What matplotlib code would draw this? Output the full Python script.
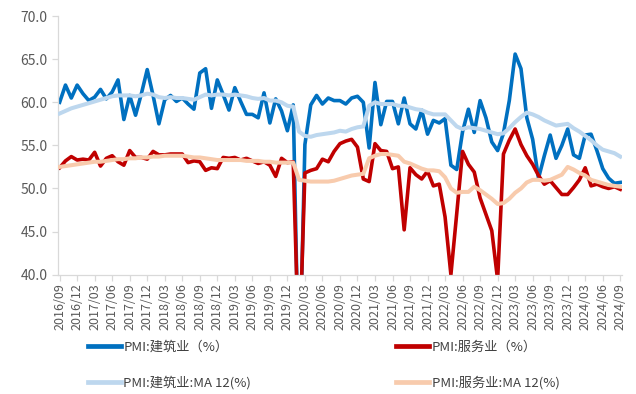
import matplotlib
matplotlib.use("Agg")
import matplotlib.pyplot as plt
import numpy as np
import pandas as pd

plt.rcParams['font.family'] = ['Noto Sans CJK SC', 'DejaVu Sans']

# monthly PMI, 2016/09 - 2024/09
months = pd.period_range('2016-09', '2024-09', freq='M').strftime('%Y/%m').tolist()

construction = [
    60.0, 62.0, 60.5, 62.0, 61.0, 60.2, 60.6, 61.5, 60.4, 61.2, 62.6, 58.0,
    60.8, 58.5, 61.0, 63.8, 60.8, 57.5, 60.3, 60.8, 60.1, 60.5, 59.8, 59.2,
    63.4, 63.9, 59.3, 62.6, 60.9, 59.1, 61.7, 60.1, 58.6, 58.6, 58.2, 61.1,
    57.6, 60.4, 59.0, 56.7, 59.7, 26.6, 55.1, 59.7, 60.8, 59.8, 60.5, 60.2,
    60.2, 59.8, 60.5, 60.7, 60.0, 54.7, 62.3, 57.4, 60.1, 60.1, 57.5, 60.5,
    57.5, 56.9, 59.1, 56.3, 57.9, 57.6, 58.1, 52.7, 52.2, 56.6, 59.2, 56.5,
    60.2, 58.2, 55.4, 54.4, 56.4, 60.2, 65.6, 63.9, 58.2, 55.7, 51.2, 53.8,
    56.2, 53.5, 55.0, 56.9, 53.9, 53.5, 56.2, 56.3, 54.4, 52.3, 51.2, 50.6,
    50.7,
]

services = [
    52.4, 53.2, 53.7, 53.3, 53.4, 53.3, 54.2, 52.6, 53.5, 53.8, 53.1, 52.7,
    54.4, 53.6, 53.6, 53.4, 54.3, 53.9, 53.9, 54.0, 54.0, 54.0, 53.0, 53.2,
    53.1, 52.1, 52.4, 52.3, 53.6, 53.5, 53.6, 53.3, 53.5, 53.2, 52.9, 53.1,
    52.7, 51.4, 53.5, 53.0, 53.1, 30.1, 51.8, 52.1, 52.3, 53.4, 53.1, 54.3,
    55.2, 55.5, 55.7, 54.8, 51.1, 50.8, 55.2, 54.4, 54.3, 52.3, 52.5, 45.2,
    52.4, 51.6, 51.1, 52.0, 50.3, 50.5, 46.7, 40.0, 47.1, 54.3, 52.8, 51.9,
    48.9, 47.0, 45.1, 39.4, 54.0, 55.6, 56.9, 55.1, 53.8, 52.8, 51.5, 50.5,
    50.9, 50.1, 49.3, 49.3, 50.1, 51.0, 52.4, 50.3, 50.5, 50.2, 50.0, 50.2,
    49.9,
]

construction_ma12 = [
    58.7, 59.0, 59.3, 59.5, 59.7, 59.9, 60.1, 60.3, 60.5, 60.7, 60.8, 60.8,
    60.8, 60.7, 60.8, 61.0, 60.9, 60.6, 60.5, 60.6, 60.5, 60.5, 60.4, 60.3,
    60.6, 60.9, 60.8, 60.9, 60.9, 60.8, 60.9, 60.8, 60.7, 60.5, 60.4, 60.5,
    60.2, 60.2, 60.0, 59.6, 59.5, 56.6, 56.1, 56.0, 56.2, 56.3, 56.4, 56.5,
    56.7, 56.6, 56.9, 57.1, 57.2, 59.6, 60.0, 59.8, 59.8, 59.8, 59.6, 59.6,
    59.4, 59.2, 59.1, 58.8, 58.6, 58.6, 58.6, 57.9, 57.2, 56.9, 57.1, 57.0,
    56.9, 56.7, 56.5, 56.3, 56.4, 57.0, 57.7, 58.3, 58.8, 58.6, 58.3, 57.9,
    57.6, 57.3, 57.4, 57.5, 57.0, 56.6, 56.1, 55.6, 55.0, 54.5, 54.3, 54.1,
    53.7,
]

services_ma12 = [
    52.5, 52.6, 52.7, 52.8, 52.9, 53.0, 53.1, 53.1, 53.2, 53.3, 53.4, 53.4,
    53.5, 53.5, 53.6, 53.6, 53.7, 53.7, 53.8, 53.8, 53.8, 53.8, 53.7, 53.6,
    53.6, 53.5, 53.4, 53.3, 53.3, 53.3, 53.3, 53.3, 53.2, 53.2, 53.2, 53.1,
    53.1, 53.0, 53.0, 53.0, 53.0, 51.0, 50.9, 50.8, 50.8, 50.8, 50.8, 50.9,
    51.1, 51.3, 51.5, 51.6, 51.7, 53.5, 53.8, 54.0, 54.0, 53.9, 53.8, 53.1,
    52.9, 52.6, 52.3, 52.1, 52.1, 52.0, 51.3, 50.0, 49.5, 49.6, 49.6, 50.2,
    49.8, 49.3, 48.8, 48.2, 48.3, 48.8, 49.5, 50.0, 50.7, 51.0, 51.0, 50.9,
    51.0, 51.3, 51.6, 52.5, 52.2, 51.8, 51.5, 51.0, 50.8, 50.6, 50.4, 50.3,
    50.2,
]

labels = ['PMI:建筑业（%）', 'PMI:建筑业:MA 12(%)', 'PMI:服务业（%）', 'PMI:服务业:MA 12(%)']
colors = ['#0070C0', '#BDD7EE', '#C00000', '#F8CBAD']

x = np.arange(len(months))

fig = plt.figure(figsize=(6.36, 3.94), dpi=100)
ax = fig.add_axes([0.091, 0.303, 0.887, 0.656])

l1, = ax.plot(x, construction, color=colors[0], lw=2.6, zorder=2)
l3, = ax.plot(x, services, color=colors[2], lw=2.6, zorder=2)
l2, = ax.plot(x, construction_ma12, color=colors[1], lw=2.9, zorder=3)
l4, = ax.plot(x, services_ma12, color=colors[3], lw=2.9, zorder=3)

ax.set_ylim(40, 70)
ax.set_yticks(np.arange(40, 71, 5))
ax.set_yticklabels([f'{v:.1f}' for v in np.arange(40, 71, 5)])
ax.set_xlim(-0.3, len(months) - 0.7)
ax.set_xticks(x[::3])
ax.set_xticklabels(months[::3], rotation=90)

for s in ['top', 'right']:
    ax.spines[s].set_visible(False)
for s in ['left', 'bottom']:
    ax.spines[s].set_color('#D9D9D9')
    ax.spines[s].set_linewidth(0.9)
ax.tick_params(axis='both', colors='#D9D9D9', length=4, width=0.9,
               labelcolor='#595959', labelsize=9)
ax.tick_params(axis='y', labelsize=10)
ax.tick_params(axis='x', pad=2)

handles = [l1, l2, l3, l4]
leg = fig.legend(handles, labels, ncol=2, loc='upper left',
                 bbox_to_anchor=(0.138, 0.135), frameon=False,
                 handlelength=2.5, handletextpad=0.2, columnspacing=11.0,
                 labelspacing=1.7, borderaxespad=0, borderpad=0,
                 prop={'size': 9.5})
for line in leg.get_lines():
    line.set_linewidth(3.4)
for t in leg.get_texts():
    t.set_color('#404040')

fig.savefig('out.png', dpi=100)
